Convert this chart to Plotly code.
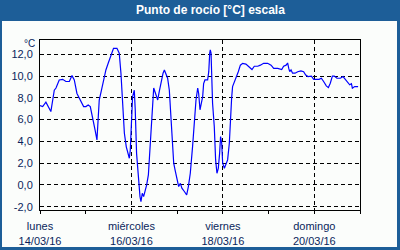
import pandas as pd
import plotly.graph_objects as go

# hours since 14/03/16 00:00 and dew point values (°C)
hours = [0, 1.4, 3.1, 4.3, 5.7, 7.5, 8.4, 10.1, 11.9, 13.6, 15.4, 16.8, 18.0, 19.4, 21.1, 22.9,
         24.1, 25.3, 26.4, 27.6, 28.9, 29.9, 30.6, 31.1, 32.3, 33.4, 34.6, 35.8, 37.2, 38.6,
         40.4, 41.6, 42.5, 43.4, 44.3, 45.3,
         46.0, 46.9, 47.4, 48.1, 48.6, 49.5, 50.0, 50.7, 51.6, 52.5, 53.0, 53.7, 54.4, 55.1,
         56.0, 56.9, 57.7, 58.6, 59.1, 59.7, 60.7, 61.8, 62.6, 63.5, 64.6, 65.3, 66.3, 67.0,
         67.9, 68.8, 69.3, 70.2, 70.9, 71.9, 72.8, 73.7, 74.5, 75.8, 77.0, 77.9, 78.9, 80.1,
         81.0, 81.9, 82.8, 83.3, 84.0, 84.5, 85.4, 85.9, 86.6, 88.0, 88.6, 89.1, 89.4, 89.8,
         90.1, 90.6, 91.5, 92.2, 92.9, 93.6, 94.3, 94.8,
         95.4, 95.9, 96.8, 97.6, 98.5, 99.4, 99.9, 100.6, 101.1, 102.4, 103.4, 104.1, 105.2,
         106.4, 108.1, 109.9, 111.3, 112.5, 114.3, 115.7, 117.4, 119.5, 121.3, 122.7, 124.8,
         126.9, 127.9, 129.2, 130.0, 130.6, 131.1, 131.8, 132.6, 133.9, 135.3, 137.0,
         138.4, 139.5, 140.7, 142.5, 143.7, 146.5, 147.7, 148.9, 150.3, 151.4, 152.4, 153.5,
         154.5, 155.9, 157.7, 159.1, 160.5, 161.7, 162.6, 163.5, 164.0, 165.2, 167.0]
dew_point = [7.29, 7.2, 7.6, 7.2, 6.74, 8.7, 8.9, 9.64, 9.7, 9.5, 9.5, 10.04, 9.64, 8.4, 7.8, 7.2,
             7.2, 7.35, 7.2, 6.28, 5.05, 4.13, 5.97, 7.8, 8.72, 9.64, 10.56, 11.17, 11.94, 12.55,
             12.55, 12.1, 10.26, 7.8, 4.75, 3.5,
             2.9, 2.45, 3.2, 6.74, 8.1, 8.7, 6.9, 2.9, 0.46, -1.07, -1.53, -0.76, -1.07, -0.6,
             0.0, 0.92, 3.67, 5.8, 7.2, 8.9, 8.4, 7.8, 8.57, 9.5, 10.26, 10.56, 10.1, 9.8,
             8.7, 6.28, 4.13, 2.0, 1.38, 0.46, -0.15, 0.15, -0.3, -0.6, -0.92, -0.15, 1.07, 3.52,
             5.97, 7.8, 8.9, 8.4, 6.9, 7.35, 8.1, 9.3, 9.64, 9.64, 10.4, 12.1, 12.4, 12.1,
             10.26, 7.5, 5.35, 2.3, 1.07, 1.53, 2.9, 4.44,
             3.83, 2.0, 1.53, 2.0, 2.3, 3.83, 5.97, 7.96, 9.03, 9.64, 9.95, 10.4, 11.0,
             11.17, 11.1, 10.8, 10.6, 10.9, 10.9, 11.0, 11.17, 11.17, 11.0, 10.7, 10.7,
             10.6, 10.9, 11.0, 11.2, 10.7, 10.4, 10.56, 10.26, 10.26, 10.4, 10.47,
             10.4, 10.1, 9.95, 10.0, 9.7, 9.7, 9.8, 9.5, 9.1, 8.94, 9.34, 10.0,
             10.0, 9.8, 9.8, 9.95, 9.64, 9.34, 9.2, 9.3, 8.88, 9.03, 9.03]

x_tick_dates = ["2016-03-14", "2016-03-16", "2016-03-18", "2016-03-20"]
x_tick_text = ["lunes<br>14/03/16", "miércoles<br>16/03/16", "viernes<br>18/03/16", "domingo<br>20/03/16"]
y_tick_vals = [-2, 0, 2, 4, 6, 8, 10, 12]
y_tick_text = ["-2,0", "0,0", "2,0", "4,0", "6,0", "8,0", "10,0", "12,0"]
title_text = "Punto de rocío [°C] escala"
unit_text = "°C"

base = pd.Timestamp("2016-03-14 00:00")
times = [base + pd.Timedelta(hours=h) for h in hours]

BLUE = "#1d5e98"
BG = "#fbfdfb"
TXT = "#0a1f5c"
FONT = "Liberation Sans"

fig = go.Figure()
fig.add_trace(go.Scatter(x=times, y=dew_point, mode="lines",
                         line=dict(color="#0000ff", width=1.2), hoverinfo="skip"))

W, H = 400, 250
L, R, T, B = 40, 40, 40, 40
pw, ph = W - L - R, H - T - B


def px_x(p):
    return (p - L) / pw


def px_y(p):
    return (H - B - p) / ph


fig.add_shape(type="rect", xref="paper", yref="paper", layer="below",
              x0=px_x(2), x1=px_x(397), y0=px_y(247), y1=px_y(21),
              fillcolor=BG, line=dict(width=0))

fig.add_annotation(text="<b>" + title_text + "</b>", xref="paper", yref="paper",
                   x=px_x(210), y=px_y(10.5), xanchor="center", yanchor="middle",
                   showarrow=False, font=dict(family=FONT, size=12, color="white"))
fig.add_annotation(text=unit_text, xref="paper", yref="paper",
                   x=px_x(37), y=px_y(43), xanchor="right", yanchor="middle",
                   showarrow=False, font=dict(family=FONT, size=10, color=TXT))

fig.update_layout(
    width=W, height=H,
    margin=dict(l=L, r=R, t=T, b=B, pad=0, autoexpand=False),
    paper_bgcolor=BLUE, plot_bgcolor=BG,
    showlegend=False,
    font=dict(family=FONT, size=11, color=TXT),
)
fig.update_xaxes(
    type="date", range=["2016-03-14", "2016-03-21"],
    tickvals=x_tick_dates, ticktext=x_tick_text, automargin=False,
    ticks="outside", ticklen=3, tickcolor="black", ticklabelstandoff=3,
    showline=True, linecolor="black", linewidth=1, mirror=True,
    showgrid=True, gridcolor="black", griddash="4px,3px", gridwidth=1,
    minor=dict(dtick=86400000, ticks="outside", ticklen=3, tickcolor="black", showgrid=False),
    zeroline=False, fixedrange=True,
)
fig.update_yaxes(
    range=[-2.30, 13.31], automargin=False,
    tickvals=y_tick_vals, ticktext=y_tick_text,
    ticks="", ticklabelstandoff=4,
    showline=True, linecolor="black", linewidth=1, mirror=True,
    showgrid=True, gridcolor="black", griddash="4px,3px", gridwidth=1,
    zeroline=False, fixedrange=True,
)

fig.write_html("out.html", config={"displayModeBar": False})
